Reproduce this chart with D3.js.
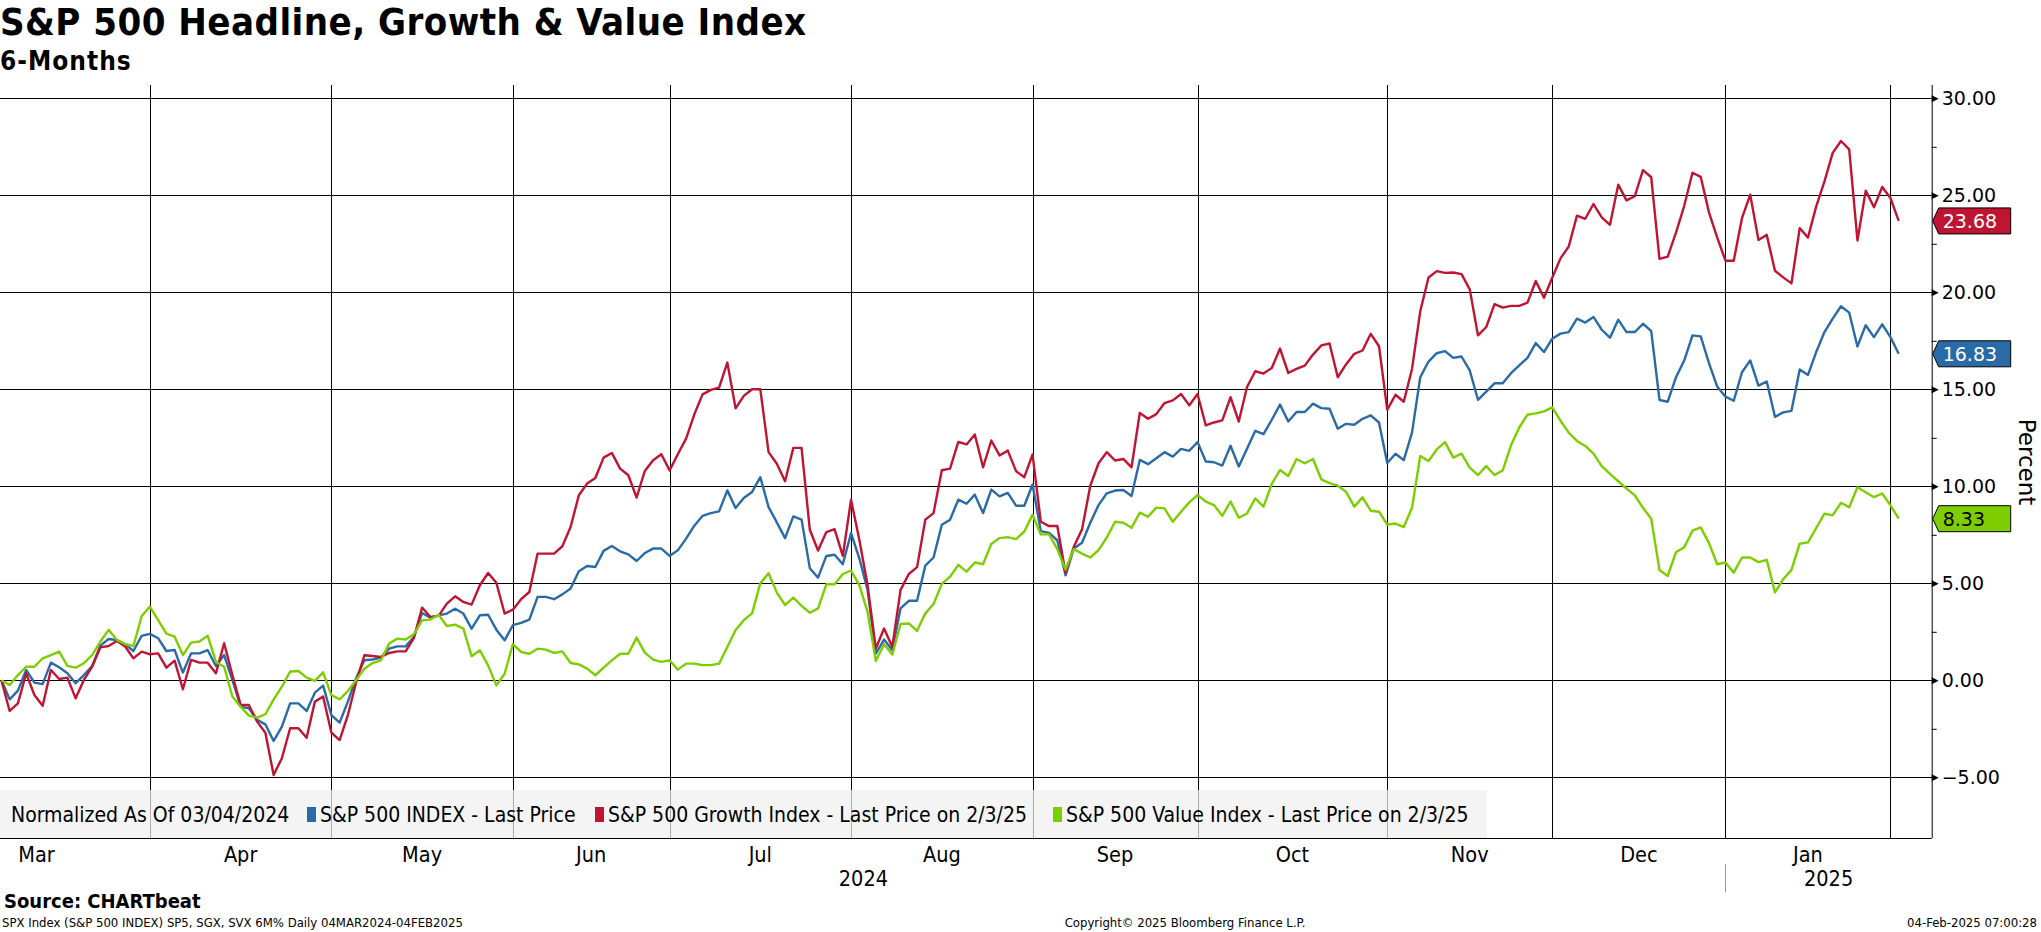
<!DOCTYPE html>
<html>
<head>
  <meta charset="utf-8">
  <title>S&amp;P 500 Headline, Growth &amp; Value Index</title>
  <script src="https://d3js.org/d3.v7.min.js"></script>
  <style>
    * {
      margin: 0;
      box-sizing: border-box;
    }
    body {
      background: #fff;
    }
    text {
      font-family: "DejaVu Sans", sans-serif;
    }
    .cond {
      font-stretch: condensed;
    }
  </style>
</head>
<body>
  <script>
    // % change since 04 Mar 2024, one value per trading session (04 Mar 2024 .. 03 Feb 2025)
    const spx = [
      0, -0.98, -0.53, 0.53, -0.12, -0.2, 0.91, 0.67, 0.36, -0.15, 0.27, 0.74, 1.79, 2.13, 2.08, 1.86, 1.51, 2.29, 2.39, 2.17,
      1.51, 1.56, 0.4, 1.39, 1.39, 1.56, 0.74, 1.3, 0.02, -1.36, -1.44, -2.04, -2.27, -3.13, -2.39, -1.19, -1.19, -1.58, -0.64, -0.27,
      -1.79, -2.18, -1.1, 0.1, 1.03, 1.07, 1.17, 1.63, 1.75, 1.75, 2.23, 3.47, 3.23, 3.35, 3.44, 3.69, 3.44, 2.66, 3.35, 3.38,
      2.61, 2.06, 2.84, 2.96, 3.13, 4.3, 4.3, 4.18, 4.43, 4.73, 5.62, 5.89, 5.84, 6.67, 6.92, 6.65, 6.49, 6.15, 6.56, 6.79,
      6.79, 6.41, 6.7, 7.3, 7.97, 8.48, 8.62, 8.71, 9.79, 8.88, 9.4, 9.71, 10.47, 8.93, 8.14, 7.33, 8.45, 8.28, 5.78, 5.29,
      6.41, 6.47, 5.98, 7.59, 6.29, 4.66, 1.38, 2.1, 1.55, 3.71, 4.1, 4.1, 5.91, 6.33, 8.02, 8.28, 9.31, 9.1, 9.57, 8.62,
      9.83, 9.48, 9.66, 9.0, 9.0, 10.09, 7.69, 7.6, 7.22, 5.41, 6.79, 7.09, 8.12, 9.03, 9.64, 9.78, 9.81, 9.5, 11.36, 11.14,
      11.45, 11.76, 11.53, 11.93, 11.83, 12.28, 11.28, 11.24, 11.07, 12.09, 11.02, 11.93, 12.86, 12.69, 13.43, 14.21, 13.34, 13.83, 13.83, 14.26,
      14.03, 14.0, 12.97, 13.22, 13.17, 13.48, 13.66, 13.29, 11.2, 11.68, 11.35, 12.77, 15.62, 16.43, 16.86, 16.97, 16.62, 16.69, 15.97, 14.46,
      14.88, 15.31, 15.31, 15.83, 16.23, 16.62, 17.38, 16.92, 17.61, 17.87, 17.95, 18.64, 18.44, 18.73, 18.07, 17.66, 18.59, 17.95, 17.95, 18.38,
      18.0, 14.45, 14.36, 15.62, 16.48, 17.78, 17.73, 16.35, 15.14, 14.62, 14.41, 15.88, 16.49, 15.19, 15.4, 13.58, 13.81, 13.89, 16.02, 15.74,
      16.92, 17.95, 18.64, 19.28, 18.95, 17.21, 18.3, 17.69, 18.35, 17.69, 16.83
    ];
    const growth = [
      0, -1.58, -1.19, 0.36, -0.76, -1.31, 0.53, 0.07, 0.14, -0.93, 0.02, 0.7, 1.7, 1.77, 2.03, 1.74, 1.13, 1.48, 1.34, 1.39,
      0.65, 1.01, -0.46, 1.05, 0.91, 0.91, 0.36, 1.91, 0.27, -1.27, -1.27, -2.13, -2.7, -4.88, -4.02, -2.47, -2.47, -2.96, -1.1, -0.84,
      -2.7, -3.08, -1.8, -0.1, 1.29, 1.25, 1.2, 1.41, 1.49, 1.49, 2.18, 3.75, 3.26, 3.32, 3.95, 4.33, 4.04, 3.9, 4.9, 5.53,
      5.03, 3.44, 3.64, 4.18, 4.55, 6.53, 6.53, 6.53, 6.91, 7.9, 9.54, 10.14, 10.43, 11.48, 11.72, 10.91, 10.57, 9.42, 10.79, 11.34,
      11.65, 10.82, 11.65, 12.46, 13.71, 14.74, 14.97, 15.09, 16.38, 14.02, 14.66, 15.0, 15.0, 11.76, 11.16, 10.26, 11.98, 11.98, 7.76, 6.69,
      7.64, 7.79, 6.41, 9.31, 7.24, 4.91, 1.64, 2.67, 1.72, 4.66, 5.48, 5.83, 8.28, 8.62, 10.83, 10.91, 12.29, 12.16, 12.67, 10.98,
      12.36, 11.59, 11.84, 10.78, 10.47, 11.64, 8.17, 7.95, 7.95, 5.53, 6.88, 7.78, 10.03, 11.19, 11.76, 11.33, 11.41, 10.98, 13.78, 13.48,
      13.72, 14.29, 14.43, 14.76, 14.17, 14.76, 13.14, 13.29, 13.4, 14.59, 13.34, 15.12, 15.93, 15.81, 16.1, 17.1, 15.84, 16.05, 16.22, 16.79,
      17.26, 17.36, 15.62, 16.28, 16.83, 17.0, 17.86, 17.22, 13.95, 14.72, 14.36, 16.05, 19.02, 20.76, 21.09, 21.0, 21.02, 20.94, 20.15, 17.78,
      18.21, 19.39, 19.21, 19.3, 19.3, 19.47, 20.58, 19.72, 20.75, 21.75, 22.36, 23.95, 23.79, 24.55, 23.86, 23.48, 25.55, 24.74, 24.95, 26.3,
      25.93, 21.72, 21.84, 23.08, 24.46, 26.16, 25.95, 24.12, 22.82, 21.63, 21.63, 23.82, 25.03, 22.7, 22.96, 21.11, 20.77, 20.46, 23.31, 22.82,
      24.43, 25.72, 27.19, 27.8, 27.37, 22.67, 25.24, 24.38, 25.43, 24.86, 23.68
    ];
    const value = [
      0, -0.24, 0.27, 0.7, 0.7, 1.13, 1.3, 1.48, 0.74, 0.65, 0.88, 1.3, 2.0, 2.6, 2.08, 1.86, 1.77, 3.3, 3.8, 3.1,
      2.4, 2.25, 1.3, 1.94, 2.0, 2.3, 0.96, 0.7, -0.84, -1.36, -1.82, -1.92, -1.75, -1.0, -0.33, 0.45, 0.48, 0.14, -0.03, 0.41,
      -0.76, -0.98, -0.55, 0.0, 0.6, 0.89, 1.03, 1.89, 2.15, 2.1, 2.37, 3.09, 3.13, 3.38, 2.8, 2.87, 2.66, 1.24, 1.55, 0.77,
      -0.26, 0.34, 1.86, 1.46, 1.37, 1.63, 1.58, 1.41, 1.49, 0.89, 0.82, 0.6, 0.26, 0.65, 1.03, 1.37, 1.37, 2.2, 1.43, 1.07,
      0.95, 1.03, 0.55, 0.86, 0.86, 0.78, 0.78, 0.86, 1.72, 2.59, 3.1, 3.45, 5.0, 5.52, 4.52, 3.88, 4.26, 3.84, 3.48, 3.71,
      4.95, 4.95, 5.48, 5.66, 4.91, 3.53, 1.0, 1.86, 1.33, 2.9, 2.93, 2.55, 3.45, 3.93, 4.97, 5.34, 5.95, 5.6, 6.07, 5.98,
      7.03, 7.33, 7.38, 7.28, 7.67, 8.53, 7.52, 7.52, 6.76, 5.71, 6.76, 6.53, 6.33, 6.71, 7.36, 8.17, 8.12, 7.86, 8.64, 8.43,
      8.9, 8.86, 8.17, 8.69, 9.17, 9.55, 9.21, 9.03, 8.48, 9.21, 8.38, 8.6, 9.38, 8.95, 10.12, 10.84, 10.53, 11.41, 11.19, 11.41,
      10.36, 10.16, 10.03, 9.72, 8.95, 9.43, 8.74, 8.69, 8.03, 8.08, 7.9, 8.89, 11.56, 11.3, 11.9, 12.28, 11.48, 11.68, 10.96, 10.58,
      11.04, 10.58, 10.82, 12.11, 13.03, 13.69, 13.76, 13.86, 14.07, 13.38, 12.77, 12.34, 12.08, 11.68, 11.04, 10.64, 10.26, 9.88, 9.54, 8.89,
      8.33, 5.69, 5.38, 6.6, 6.86, 7.71, 7.88, 7.07, 5.98, 6.07, 5.55, 6.33, 6.33, 6.09, 6.21, 4.53, 5.21, 5.69, 7.04, 7.11,
      7.85, 8.59, 8.51, 9.15, 8.92, 9.95, 9.69, 9.44, 9.63, 9.02, 8.33
    ];

    const monthNames = ["Mar", "Apr", "May", "Jun", "Jul", "Aug", "Sep", "Oct", "Nov", "Dec", "Jan"];
    // session index of each month divider (last session of the month before)
    const monthBreaks = [18, 40, 62, 81, 103, 125, 145, 168, 188, 209, 229];
    const years = ["2024", "2025"];
    const yTicks = [-5, 0, 5, 10, 15, 20, 25, 30];
    const yMinor = [-2.5, 2.5, 7.5, 12.5, 17.5, 22.5, 27.5];

    const series = [
      { name: "S&P 500 INDEX - Last Price", values: spx, color: "#2a6aa6", text: "#fff" },
      { name: "S&P 500 Growth Index - Last Price on 2/3/25", values: growth, color: "#bf1533", text: "#fff" },
      { name: "S&P 500 Value Index - Last Price on 2/3/25", values: value, color: "#7dcd00", text: "#000" }
    ];

    const width = 2041, height = 932;
    const plotTop = 85, plotBottom = 838, axisX = 1931.7;

    const svg = d3.select("body").append("svg")
      .attr("width", width)
      .attr("height", height);

    const x = d3.scaleLinear().domain([0, 234]).range([1.4, axisX]);
    const y = d3.scaleLinear().domain([0, 30]).range([680.3, 98.3]);

    // titles
    svg.append("text").attr("class", "cond")
      .attr("x", 0).attr("y", 35)
      .style("font-size", "38px").style("font-weight", "bold")
      .style("letter-spacing", "0.45px")
      .text("S&P 500 Headline, Growth & Value Index");
    svg.append("text").attr("class", "cond")
      .attr("x", 0).attr("y", 70)
      .style("font-size", "26px").style("font-weight", "bold")
      .style("letter-spacing", "1px")
      .text("6-Months");

    // grid
    const grid = svg.append("g").attr("stroke", "#000").attr("stroke-width", 1);
    grid.selectAll(".hgrid")
      .data(yTicks)
      .enter().append("line")
      .attr("x1", 0).attr("x2", axisX)
      .attr("y1", d => Math.round(y(d)) + 0.5).attr("y2", d => Math.round(y(d)) + 0.5);
    grid.selectAll(".vgrid")
      .data(monthBreaks)
      .enter().append("line")
      .attr("x1", d => Math.round(x(d)) + 0.5).attr("x2", d => Math.round(x(d)) + 0.5)
      .attr("y1", plotTop).attr("y2", plotBottom);

    // legend band
    const legend = svg.append("g").attr("class", "cond").style("font-size", "21px");
    legend.append("rect")
      .attr("x", 0).attr("y", 790).attr("width", 1487).attr("height", 48)
      .attr("fill", "#f0f0f0").attr("opacity", 0.72);
    legend.append("text").attr("x", 11).attr("y", 822).text("Normalized As Of 03/04/2024");
    const legendX = [307, 595, 1053];
    series.forEach((s, i) => {
      legend.append("rect")
        .attr("x", legendX[i]).attr("y", 807).attr("width", 9).attr("height", 15)
        .attr("fill", s.color);
      legend.append("text").attr("x", legendX[i] + 13).attr("y", 822).text(s.name);
    });

    // lines
    const line = d3.line()
      .x((d, i) => x(i))
      .y(d => y(d));
    svg.selectAll(".series")
      .data(series)
      .enter().append("path")
      .attr("fill", "none")
      .attr("stroke", d => d.color)
      .attr("stroke-width", 2.4)
      .attr("stroke-linejoin", "round")
      .attr("d", d => line(d.values));

    // right axis
    const yAxis = svg.append("g")
      .attr("transform", `translate(${axisX},0)`)
      .call(d3.axisRight(y).tickValues(yTicks).tickSize(0).tickPadding(10).tickFormat(d3.format(".2f")));
    yAxis.select(".domain").remove();
    yAxis.selectAll("text")
      .style("font-family", "'DejaVu Sans'")
      .style("font-size", "19px")
      .attr("fill", "#000");
    yAxis.selectAll(".tick").append("path")
      .attr("d", "M0,-3.5L7,0L0,3.5Z")
      .attr("fill", "#000");
    svg.append("g")
      .attr("transform", `translate(${axisX},0)`)
      .call(d3.axisRight(y).tickValues(yMinor).tickSize(5).tickFormat(""))
      .call(g => g.select(".domain").remove())
      .selectAll("line").attr("stroke", "#000");
    svg.append("line")
      .attr("x1", axisX + 0.5).attr("x2", axisX + 0.5)
      .attr("y1", plotTop).attr("y2", plotBottom)
      .attr("stroke", "#000");

    svg.append("text")
      .attr("transform", `translate(2019,462) rotate(90)`)
      .attr("text-anchor", "middle")
      .style("font-size", "23px")
      .text("Percent");

    // last value flags
    series.forEach(s => {
      const v = s.values[s.values.length - 1];
      const cy = y(v);
      svg.append("path")
        .attr("d", `M${axisX + 1},${cy}L${axisX + 7},${cy - 13}L${axisX + 79},${cy - 13}L${axisX + 79},${cy + 13}L${axisX + 7},${cy + 13}Z`)
        .attr("fill", s.color)
        .attr("stroke", "#000")
        .attr("stroke-width", 1);
      svg.append("text")
        .attr("x", axisX + 11).attr("y", cy + 7)
        .style("font-size", "19px")
        .attr("fill", s.text)
        .text(d3.format(".2f")(v));
    });

    // bottom axis
    svg.append("line")
      .attr("x1", 0).attr("x2", axisX)
      .attr("y1", plotBottom + 0.5).attr("y2", plotBottom + 0.5)
      .attr("stroke", "#000");
    const bounds = [-9.5].concat(monthBreaks);
    const months = svg.append("g").attr("class", "cond").style("font-size", "21.5px");
    monthNames.forEach((m, i) => {
      months.append("text")
        .attr("x", (x(bounds[i]) + x(bounds[i + 1])) / 2)
        .attr("y", 862)
        .attr("text-anchor", "middle")
        .text(m);
    });
    svg.append("line")
      .attr("x1", Math.round(x(209)) + 0.5).attr("x2", Math.round(x(209)) + 0.5)
      .attr("y1", 864).attr("y2", 892)
      .attr("stroke", "#999");
    const yearBounds = [[0, 209], [209, 234]];
    years.forEach((yr, i) => {
      svg.append("text").attr("class", "cond")
        .attr("x", (x(yearBounds[i][0]) + x(yearBounds[i][1])) / 2)
        .attr("y", 886)
        .attr("text-anchor", "middle")
        .style("font-size", "21.5px")
        .text(yr);
    });

    // footer
    svg.append("text").attr("class", "cond")
      .attr("x", 4).attr("y", 908)
      .style("font-size", "20px").style("font-weight", "bold")
      .text("Source: CHARTbeat");
    const foot = svg.append("g").attr("class", "cond").style("font-size", "13px");
    foot.append("text").attr("x", 2).attr("y", 927)
      .text("SPX Index (S&P 500 INDEX) SP5, SGX, SVX 6M%  Daily 04MAR2024-04FEB2025");
    foot.append("text").attr("x", 1185).attr("y", 927).attr("text-anchor", "middle")
      .text("Copyright\u00a9 2025 Bloomberg Finance L.P.");
    foot.append("text").attr("x", 2037).attr("y", 927).attr("text-anchor", "end")
      .text("04-Feb-2025 07:00:28");
  </script>
</body>
</html>
